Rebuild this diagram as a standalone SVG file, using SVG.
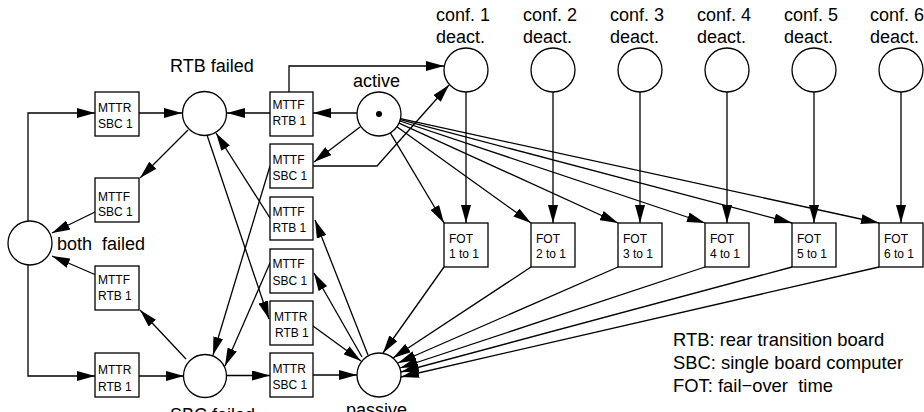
<svg xmlns="http://www.w3.org/2000/svg" width="924" height="412" viewBox="0 0 924 412">
<defs>
<marker id="ah" markerUnits="userSpaceOnUse" viewBox="0 0 18 10" markerWidth="18" markerHeight="10" refX="18" refY="5" orient="auto">
<path d="M0,0 L18,5 L0,10 z" fill="#000"/>
</marker>
</defs>
<style>
.c{fill:none;stroke:#000;stroke-width:1.3;marker-end:url(#ah)}
.p{fill:#fff;stroke:#000;stroke-width:1.3}
.t{fill:#fff;stroke:#000;stroke-width:1.3}
.bt{font-family:"Liberation Sans",Arial,sans-serif;font-size:12px;fill:#000}
.lb{font-family:"Liberation Sans",Arial,sans-serif;font-size:18px;fill:#000}
.lg{font-family:"Liberation Sans",Arial,sans-serif;font-size:18.4px;fill:#000}
</style>
<rect width="924" height="412" fill="#fff"/>
<g id="connectors">
<polyline class="c" points="28,221 28,113 95,113"/>
<line class="c" x1="139" y1="113" x2="182" y2="113"/>
<line class="c" x1="188" y1="130" x2="140" y2="178"/>
<line class="c" x1="95" y1="212" x2="52" y2="233"/>
<line class="c" x1="96" y1="275" x2="52" y2="256"/>
<line class="c" x1="186" y1="359" x2="140" y2="310"/>
<polyline class="c" points="28,265 28,376 95,376"/>
<line class="c" x1="139" y1="376" x2="184" y2="376"/>
<line class="c" x1="226" y1="375.5" x2="270" y2="375.5"/>
<line class="c" x1="313" y1="375" x2="357" y2="375"/>
<line class="c" x1="357" y1="113" x2="313" y2="113"/>
<line class="c" x1="270" y1="113" x2="227" y2="113"/>
<polyline class="c" points="289,92 289,66 444,66"/>
<line class="c" x1="360" y1="127" x2="314" y2="162"/>
<polyline class="c" points="313,166 377,166 449,85"/>
<line class="c" x1="207" y1="135" x2="269" y2="319"/>
<line class="c" x1="270" y1="218" x2="216" y2="133"/>
<line class="c" x1="270" y1="166" x2="213" y2="355"/>
<line class="c" x1="270" y1="263" x2="225" y2="366"/>
<line class="c" x1="368" y1="355" x2="315" y2="220"/>
<line class="c" x1="362" y1="357" x2="314" y2="273"/>
<line class="c" x1="313" y1="326" x2="361" y2="361"/>
<line class="c" x1="390.3" y1="132.9" x2="444" y2="223"/>
<line class="c" x1="396.9" y1="126.8" x2="531" y2="223"/>
<line class="c" x1="399" y1="123.1" x2="618" y2="223"/>
<line class="c" x1="399.9" y1="121" x2="705" y2="223"/>
<line class="c" x1="400.3" y1="119.6" x2="792" y2="223"/>
<line class="c" x1="400.5" y1="118.7" x2="879" y2="223"/>
<line class="c" x1="466" y1="92" x2="466" y2="223"/>
<line class="c" x1="553" y1="92" x2="553" y2="223"/>
<line class="c" x1="640" y1="92" x2="640" y2="223"/>
<line class="c" x1="727" y1="92" x2="727" y2="223"/>
<line class="c" x1="814" y1="92" x2="814" y2="223"/>
<line class="c" x1="901" y1="92" x2="901" y2="223"/>
<line class="c" x1="444" y1="267" x2="383" y2="353"/>
<line class="c" x1="531" y1="267" x2="393" y2="358"/>
<line class="c" x1="618" y1="267" x2="398" y2="363"/>
<line class="c" x1="705" y1="267" x2="400" y2="368"/>
<line class="c" x1="792" y1="267" x2="401" y2="372"/>
<line class="c" x1="879" y1="267" x2="401" y2="377"/>
</g>
<g id="rtb_failed"><circle class="p" cx="204.5" cy="113.5" r="22"/><text class="lb" x="170" y="72">RTB failed</text></g>
<g id="both_failed"><circle class="p" cx="30" cy="243" r="22"/><text class="lb" x="57" y="250" xml:space="preserve">both  failed</text></g>
<g id="sbc_failed"><circle class="p" cx="205" cy="376" r="21.5"/><text class="lb" x="170" y="421">SBC failed</text></g>
<g id="active"><circle class="p" cx="379" cy="114" r="22"/><circle cx="379" cy="114" r="3" fill="#000"/><text class="lb" x="353" y="87">active</text></g>
<g id="passive"><circle class="p" cx="379" cy="375" r="22"/><text class="lb" x="346" y="416">passive</text></g>
<g id="conf1"><circle class="p" cx="466" cy="70" r="22"/><text class="lb" x="436" y="21">conf. 1</text><text class="lb" x="436" y="43">deact.</text></g>
<g id="conf2"><circle class="p" cx="553" cy="70" r="22"/><text class="lb" x="523" y="21">conf. 2</text><text class="lb" x="523" y="43">deact.</text></g>
<g id="conf3"><circle class="p" cx="640" cy="70" r="22"/><text class="lb" x="610" y="21">conf. 3</text><text class="lb" x="610" y="43">deact.</text></g>
<g id="conf4"><circle class="p" cx="727" cy="70" r="22"/><text class="lb" x="697" y="21">conf. 4</text><text class="lb" x="697" y="43">deact.</text></g>
<g id="conf5"><circle class="p" cx="814" cy="70" r="22"/><text class="lb" x="784" y="21">conf. 5</text><text class="lb" x="784" y="43">deact.</text></g>
<g id="conf6"><circle class="p" cx="901" cy="70" r="22"/><text class="lb" x="870" y="21">conf. 6</text><text class="lb" x="870" y="43">deact.</text></g>
<g id="mttr_sbc1_a"><rect class="t" x="95" y="92" width="44" height="44"/><text class="bt" x="98" y="112">MTTR</text><text class="bt" x="98" y="128">SBC 1</text></g>
<g id="mttf_sbc1_a"><rect class="t" x="95" y="178" width="44" height="44"/><text class="bt" x="98" y="201">MTTF</text><text class="bt" x="98" y="216">SBC 1</text></g>
<g id="mttf_rtb1_a"><rect class="t" x="95" y="266" width="44" height="44"/><text class="bt" x="98" y="284">MTTF</text><text class="bt" x="98" y="300">RTB 1</text></g>
<g id="mttr_rtb1_a"><rect class="t" x="95" y="353" width="44" height="44"/><text class="bt" x="98" y="374">MTTR</text><text class="bt" x="98" y="391">RTB 1</text></g>
<g id="mttf_rtb1_b"><rect class="t" x="270" y="92" width="43" height="44"/><text class="bt" x="272.5" y="109">MTTF</text><text class="bt" x="272.5" y="125">RTB 1</text></g>
<g id="mttf_sbc1_b"><rect class="t" x="270" y="144" width="43" height="44"/><text class="bt" x="272.5" y="164">MTTF</text><text class="bt" x="272.5" y="180">SBC 1</text></g>
<g id="mttf_rtb1_c"><rect class="t" x="270" y="197" width="43" height="43"/><text class="bt" x="272.5" y="216">MTTF</text><text class="bt" x="272.5" y="232">RTB 1</text></g>
<g id="mttf_sbc1_c"><rect class="t" x="270" y="249" width="43" height="44"/><text class="bt" x="272.5" y="268">MTTF</text><text class="bt" x="272.5" y="285">SBC 1</text></g>
<g id="mttr_rtb1_b"><rect class="t" x="270" y="301" width="43" height="44"/><text class="bt" x="274" y="321">MTTR</text><text class="bt" x="275" y="337">RTB 1</text></g>
<g id="mttr_sbc1_b"><rect class="t" x="270" y="353" width="43" height="44"/><text class="bt" x="272.5" y="373">MTTR</text><text class="bt" x="272.5" y="389">SBC 1</text></g>
<g id="fot1"><rect class="t" x="444" y="223" width="44" height="44"/><text class="bt" x="449" y="243">FOT</text><text class="bt" x="449" y="258">1 to 1</text></g>
<g id="fot2"><rect class="t" x="531" y="223" width="44" height="44"/><text class="bt" x="536" y="243">FOT</text><text class="bt" x="536" y="258">2 to 1</text></g>
<g id="fot3"><rect class="t" x="618" y="223" width="44" height="44"/><text class="bt" x="623" y="243">FOT</text><text class="bt" x="623" y="258">3 to 1</text></g>
<g id="fot4"><rect class="t" x="705" y="223" width="44" height="44"/><text class="bt" x="710" y="243">FOT</text><text class="bt" x="710" y="258">4 to 1</text></g>
<g id="fot5"><rect class="t" x="792" y="223" width="44" height="44"/><text class="bt" x="797" y="243">FOT</text><text class="bt" x="797" y="258">5 to 1</text></g>
<g id="fot6"><rect class="t" x="879" y="223" width="44" height="44"/><text class="bt" x="884" y="243">FOT</text><text class="bt" x="884" y="258">6 to 1</text></g>
<g id="legend">
<text class="lg" x="673" y="346">RTB: rear transition board</text>
<text class="lg" x="673" y="369">SBC: single board computer</text>
<text class="lg" x="673" y="392" xml:space="preserve">FOT: fail−over  time</text>
</g>
</svg>
